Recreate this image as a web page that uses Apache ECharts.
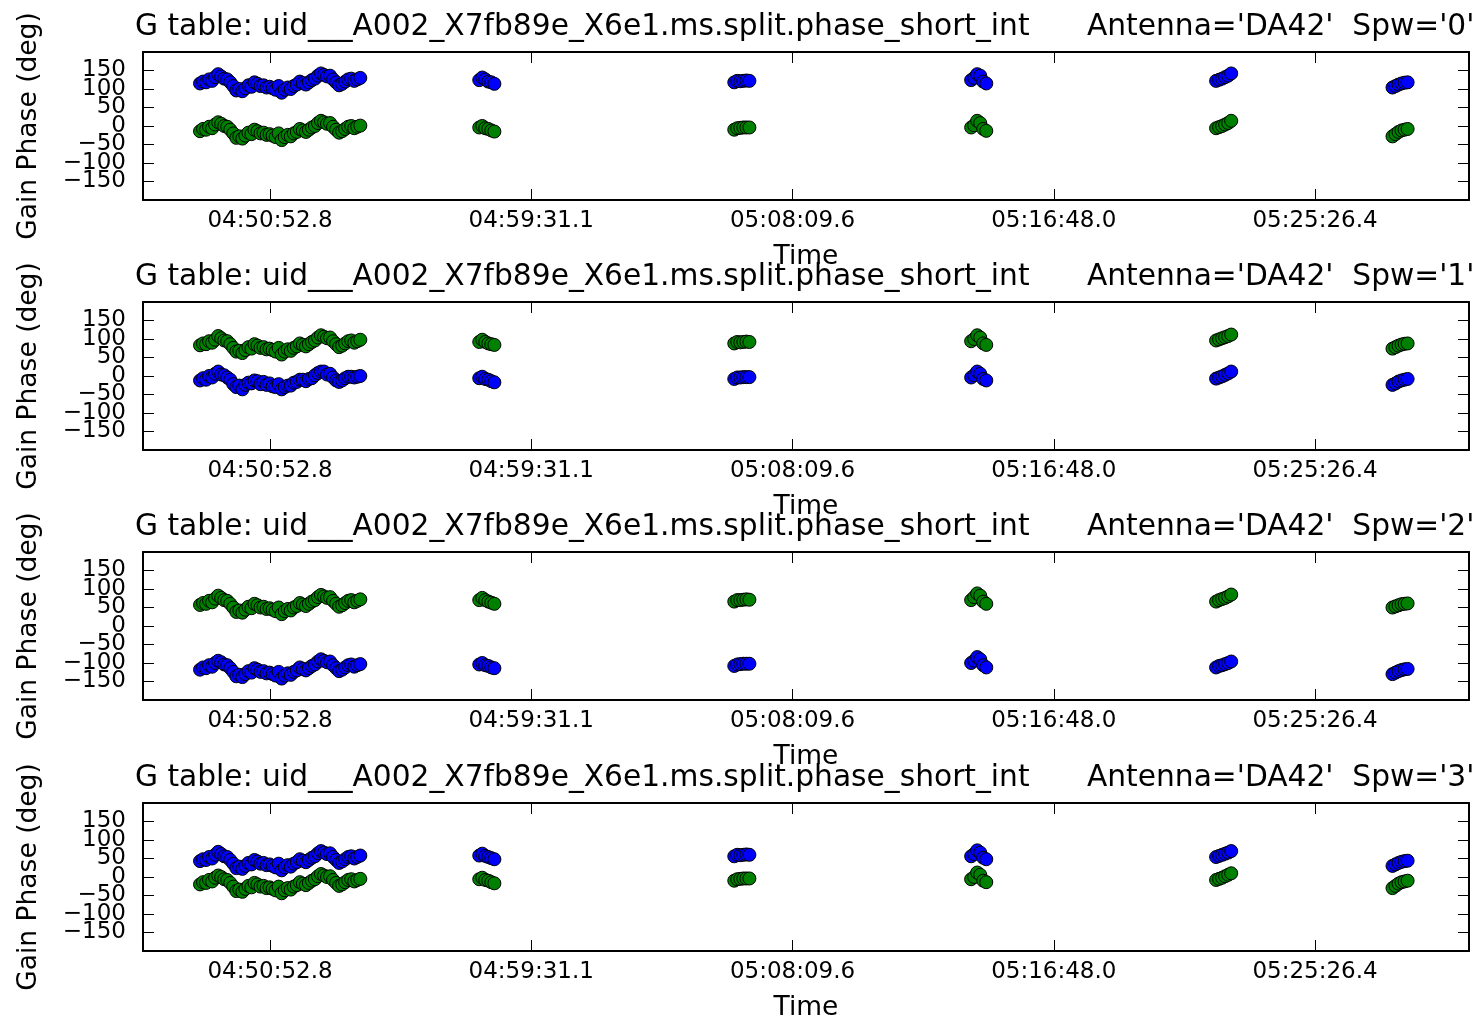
<!DOCTYPE html>
<html>
<head>
<meta charset="utf-8">
<script src="https://cdn.jsdelivr.net/npm/echarts@6/dist/echarts.min.js"></script>
<style>
html,body{margin:0;padding:0;background:#fff;}
#chart{width:1476px;height:1015px;}
</style>
</head>
<body>
<div id="chart"></div>
<script>
// ---- data (time in seconds of day, phase in degrees) ----
const TIMES = [
  17314,17320,17326,17332,17338,17344,17350,17356,17362,17368,17374,17380,17386,17392,17398,17404,17410,17416,
  17422,17428,17434,17440,17446,17452,17458,17464,17470,17476,17482,17488,17494,17500,17506,17512,17518,17524,
  17530,17536,17542,17548,17554,17560,17566,17572,17578,17584,17590,17596,17602,17608,17614,17620,17626,17632,
  17868,17874,17880,17886,17892,17898,
  18374,18380,18386,18392,18398,18404,
  18844,18850,18856,18862,18868,18874,
  19330,19336,19342,19348,19354,19360,
  19680,19686,19692,19698,19704,19710
];

const SPW0_BLUE = [
  115,120,118,126,122,132,140,134,128,126,118,108,96,100,94,102,110,106,
  118,114,108,110,104,106,102,98,108,90,98,104,100,108,112,120,116,112,
  118,124,128,136,142,138,134,136,126,118,110,114,120,126,128,122,126,130,
  124,131,126,120,118,114,
  118,122,121,122,123,122,
  124,130,140,136,120,115,
  122,125,128,132,136,142,
  104,108,112,115,117,118
];
const SPW0_GREEN = [
  -14,-8,-10,-2,-6,4,10,6,0,-2,-10,-20,-32,-28,-34,-26,-18,-22,
  -10,-14,-20,-18,-24,-22,-26,-30,-20,-38,-30,-24,-28,-20,-16,-8,-12,-16,
  -10,-4,0,8,14,10,6,8,-2,-10,-18,-14,-8,-2,0,-6,-2,1,
  -4,0,-6,-8,-12,-15,
  -10,-6,-5,-4,-4,-4,
  -4,2,14,8,-8,-13,
  -6,-3,0,4,8,14,
  -28,-22,-16,-12,-10,-8
];

const SPW1_BLUE = [
  -12,-6,-10,0,-4,6,12,4,2,-4,-10,-22,-30,-26,-36,-24,-18,-20,
  -12,-14,-22,-16,-24,-20,-28,-30,-22,-36,-30,-26,-26,-18,-16,-10,-10,-14,
  -8,-6,2,8,12,12,4,6,-4,-12,-16,-12,-6,-2,-2,-4,-2,0,
  -6,-2,-8,-10,-14,-17,
  -8,-4,-4,-3,-3,-3,
  -4,2,12,6,-8,-12,
  -7,-4,-1,3,7,12,
  -24,-20,-15,-12,-10,-8
];
const SPW1_GREEN = [
  83,88,86,94,90,98,108,102,96,94,86,76,66,68,62,70,78,74,
  86,82,76,78,72,74,70,66,76,58,66,72,68,76,80,88,84,80,
  86,92,96,104,110,106,102,104,94,86,78,82,88,94,96,90,94,98,
  92,98,92,88,86,84,
  88,92,91,92,93,92,
  94,100,110,104,88,84,
  96,99,102,105,108,112,
  74,78,82,85,87,88
];

const SPW2_BLUE = [
  -118,-112,-114,-106,-110,-100,-94,-98,-104,-106,-114,-124,-136,-132,-138,-130,-122,-126,
  -114,-118,-124,-122,-128,-126,-130,-134,-124,-142,-134,-128,-132,-124,-120,-112,-116,-120,
  -114,-108,-104,-96,-90,-94,-98,-96,-106,-114,-122,-118,-112,-106,-104,-110,-106,-103,
  -104,-100,-106,-108,-112,-114,
  -108,-104,-103,-102,-102,-102,
  -100,-94,-84,-90,-106,-112,
  -112,-108,-106,-103,-100,-96,
  -130,-126,-122,-119,-117,-116
];
const SPW2_GREEN = [
  57,62,60,68,64,74,82,76,70,68,60,50,38,42,36,44,52,48,
  60,56,50,52,46,48,44,40,50,32,40,46,42,50,54,62,58,54,
  60,66,70,78,84,80,76,78,68,60,52,56,62,68,70,64,68,72,
  70,76,70,66,63,60,
  66,70,70,71,72,71,
  70,78,88,82,66,60,
  66,70,73,76,80,85,
  50,53,56,59,60,61
];

const SPW3_BLUE = [
  43,48,46,54,50,60,68,62,56,54,46,36,24,28,22,30,38,34,
  46,42,36,38,32,34,30,26,36,18,26,32,28,36,40,48,44,40,
  46,52,56,64,70,66,62,64,54,46,38,42,48,54,56,50,54,58,
  58,63,57,54,51,48,
  56,60,59,60,61,60,
  56,62,72,66,52,48,
  54,57,60,63,66,70,
  30,34,38,41,43,44
];
const SPW3_GREEN = [
  -20,-14,-16,-8,-12,-2,4,0,-6,-8,-16,-26,-38,-34,-40,-32,-24,-28,
  -16,-20,-26,-24,-30,-28,-32,-36,-26,-44,-36,-30,-34,-26,-22,-14,-18,-22,
  -16,-10,-6,2,8,4,0,2,-8,-16,-24,-20,-14,-8,-6,-12,-8,-5,
  -6,-2,-8,-10,-14,-17,
  -10,-6,-5,-4,-4,-4,
  -6,0,12,6,-10,-14,
  -8,-5,-2,2,6,10,
  -30,-24,-18,-14,-12,-10
];

const SPW_LABELS = ['0', '1', '2', '3'];
const PANEL_BLUE = [SPW0_BLUE, SPW1_BLUE, SPW2_BLUE, SPW3_BLUE];
const PANEL_GREEN = [SPW0_GREEN, SPW1_GREEN, SPW2_GREEN, SPW3_GREEN];

const X_TICK_VALUES = [17452.8, 17971.1, 18489.6, 19008.0, 19526.4];
const X_TICK_LABELS = ['04:50:52.8', '04:59:31.1', '05:08:09.6', '05:16:48.0', '05:25:26.4'];
const X_MIN = 17200.8, X_MAX = 19831.8;
const Y_TICK_VALUES = [-150, -100, -50, 0, 50, 100, 150];
// the axis ends (-200, 200) are listed so that the end labels are the ones dropped, not -150/150
const Y_LABEL_VALUES = [-200, -150, -100, -50, 0, 50, 100, 150, 200];
const Y_MIN = -200, Y_MAX = 200;

const TITLE_LEFT = 'G table: uid___A002_X7fb89e_X6e1.ms.split.phase_short_int';
const TITLE_RIGHT_PREFIX = "Antenna='DA42'  Spw=";

// ---- layout ----
const FONT = "'DejaVu Sans', sans-serif";
const GRID_LEFT = 143, GRID_WIDTH = 1326, GRID_HEIGHT = 148;
const GRID_TOPS = [52, 302, 552, 803];

const chart = echarts.init(document.getElementById('chart'), null, {renderer: 'canvas'});

const grids = [], xAxes = [], yAxes = [], series = [], titles = [];
const axisLineStyle = {color: '#000', width: 2};
const tickLineStyle = {color: '#000', width: 1};

function fmtY(v) { return v < 0 ? '\u2212' + (-v) : String(v); }
function fmtX(v) {
  let best = 0, d = Infinity;
  X_TICK_VALUES.forEach((t, i) => { if (Math.abs(t - v) < d) { d = Math.abs(t - v); best = i; } });
  return X_TICK_LABELS[best];
}

GRID_TOPS.forEach((top, i) => {
  grids.push({left: GRID_LEFT, top: top, width: GRID_WIDTH, height: GRID_HEIGHT,
              containLabel: false, outerBoundsMode: 'none'});
  xAxes.push({
    gridIndex: i, type: 'value', position: 'bottom', min: X_MIN, max: X_MAX,
    axisLine: {show: true, onZero: false, lineStyle: axisLineStyle},
    axisTick: {show: true, inside: true, length: 11, customValues: X_TICK_VALUES, lineStyle: tickLineStyle},
    axisLabel: {show: true, customValues: X_TICK_VALUES, formatter: fmtX, fontSize: 23, color: '#000',
                fontFamily: FONT, margin: 10, showMinLabel: true, showMaxLabel: true},
    splitLine: {show: false},
    name: 'Time', nameLocation: 'middle', nameGap: 44,
    nameTextStyle: {fontSize: 26.5, color: '#000', fontFamily: FONT}
  });
  xAxes.push({
    gridIndex: i, type: 'value', position: 'top', min: X_MIN, max: X_MAX,
    axisLine: {show: true, onZero: false, lineStyle: axisLineStyle},
    axisTick: {show: true, inside: true, length: 11, customValues: X_TICK_VALUES, lineStyle: tickLineStyle},
    axisLabel: {show: false}, splitLine: {show: false}
  });
  yAxes.push({
    gridIndex: i, type: 'value', position: 'left', min: Y_MIN, max: Y_MAX,
    axisLine: {show: true, onZero: false, lineStyle: axisLineStyle},
    axisTick: {show: true, inside: true, length: 11, customValues: Y_TICK_VALUES, lineStyle: tickLineStyle},
    axisLabel: {show: true, customValues: Y_LABEL_VALUES, formatter: fmtY, fontSize: 23,
                color: '#000', fontFamily: FONT, margin: 17, showMinLabel: false, showMaxLabel: false},
    splitLine: {show: false},
    name: 'Gain Phase (deg)', nameLocation: 'middle', nameGap: 100, nameRotate: 90,
    nameTextStyle: {fontSize: 26.5, color: '#000', fontFamily: FONT}
  });
  yAxes.push({
    gridIndex: i, type: 'value', position: 'right', min: Y_MIN, max: Y_MAX,
    axisLine: {show: true, onZero: false, lineStyle: axisLineStyle},
    axisTick: {show: true, inside: true, length: 11, customValues: Y_TICK_VALUES, lineStyle: tickLineStyle},
    axisLabel: {show: false}, splitLine: {show: false}
  });
  const mk = (arr) => TIMES.map((t, k) => [t, arr[k]]);
  series.push({
    type: 'scatter', xAxisIndex: 2 * i, yAxisIndex: 2 * i, data: mk(PANEL_BLUE[i]),
    symbol: 'circle', symbolSize: 13,
    itemStyle: {color: '#0000ff', borderColor: '#000', borderWidth: 1, opacity: 1}
  });
  series.push({
    type: 'scatter', xAxisIndex: 2 * i, yAxisIndex: 2 * i, data: mk(PANEL_GREEN[i]),
    symbol: 'circle', symbolSize: 13,
    itemStyle: {color: '#008000', borderColor: '#000', borderWidth: 1, opacity: 1}
  });
  const ts = {fontSize: 29.7, fontWeight: 'normal', color: '#000', fontFamily: FONT};
  titles.push({text: TITLE_LEFT, left: 135, top: top - 40, padding: 0, textStyle: ts});
  titles.push({text: TITLE_RIGHT_PREFIX + "'" + SPW_LABELS[i] + "'", left: 1087, top: top - 40, padding: 0, textStyle: ts});
});

chart.setOption({
  animation: false,
  backgroundColor: '#fff',
  title: titles,
  grid: grids,
  xAxis: xAxes,
  yAxis: yAxes,
  series: series
});
</script>
</body>
</html>
